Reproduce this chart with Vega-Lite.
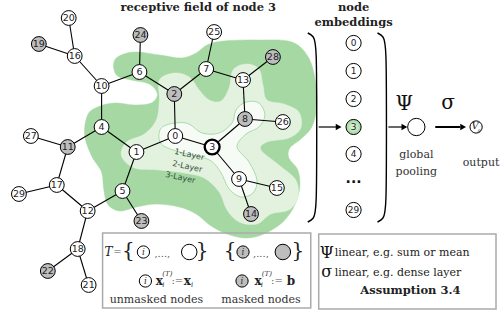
{
  "$schema": "https://vega.github.io/schema/vega-lite/v6.json",
  "width": 500,
  "height": 316,
  "padding": 0,
  "autosize": {"type": "fit", "contains": "padding"},
  "background": "white",
  "config": {"view": {"stroke": null}, "axis": {"disable": true}},
  "datasets": {
    "blob3": [
      {"i":0,"x":118,"y":57},{"i":1,"x":135,"y":52},{"i":2,"x":160,"y":55},{"i":3,"x":182,"y":58},{"i":4,"x":197,"y":53},{"i":5,"x":208,"y":45},{"i":6,"x":225,"y":41},{"i":7,"x":260,"y":40},{"i":8,"x":293,"y":42},{"i":9,"x":310,"y":58},{"i":10,"x":317,"y":83},{"i":11,"x":318,"y":107},{"i":12,"x":313,"y":127},{"i":13,"x":302,"y":139},{"i":14,"x":291,"y":148},{"i":15,"x":290,"y":158},{"i":16,"x":299,"y":170},{"i":17,"x":301,"y":187},{"i":18,"x":296,"y":205},{"i":19,"x":284,"y":222},{"i":20,"x":265,"y":234},{"i":21,"x":247,"y":238},{"i":22,"x":228,"y":234},{"i":23,"x":212,"y":226},{"i":24,"x":197,"y":214},{"i":25,"x":180,"y":207},{"i":26,"x":157,"y":204},{"i":27,"x":137,"y":207},{"i":28,"x":120,"y":211},{"i":29,"x":108,"y":204},{"i":30,"x":104,"y":188},{"i":31,"x":102,"y":172},{"i":32,"x":92,"y":156},{"i":33,"x":85,"y":135},{"i":34,"x":88,"y":115},{"i":35,"x":98,"y":107},{"i":36,"x":115,"y":103},{"i":37,"x":135,"y":105},{"i":38,"x":152,"y":103},{"i":39,"x":158,"y":94},{"i":40,"x":150,"y":84},{"i":41,"x":132,"y":80},{"i":42,"x":118,"y":76},{"i":43,"x":114,"y":66}
    ],
    "blob2": [
      {"i":0,"x":160,"y":80},{"i":1,"x":175,"y":73},{"i":2,"x":190,"y":77},{"i":3,"x":200,"y":90},{"i":4,"x":210,"y":100},{"i":5,"x":222,"y":101},{"i":6,"x":230,"y":88},{"i":7,"x":234,"y":70},{"i":8,"x":247,"y":64},{"i":9,"x":260,"y":69},{"i":10,"x":264,"y":85},{"i":11,"x":268,"y":100},{"i":12,"x":285,"y":104},{"i":13,"x":300,"y":112},{"i":14,"x":302,"y":128},{"i":15,"x":290,"y":138},{"i":16,"x":268,"y":142},{"i":17,"x":262,"y":150},{"i":18,"x":280,"y":165},{"i":19,"x":297,"y":180},{"i":20,"x":299,"y":198},{"i":21,"x":290,"y":210},{"i":22,"x":272,"y":214},{"i":23,"x":258,"y":224},{"i":24,"x":240,"y":222},{"i":25,"x":228,"y":210},{"i":26,"x":220,"y":192},{"i":27,"x":205,"y":178},{"i":28,"x":185,"y":173},{"i":29,"x":160,"y":170},{"i":30,"x":135,"y":168},{"i":31,"x":122,"y":156},{"i":32,"x":127,"y":142},{"i":33,"x":145,"y":134},{"i":34,"x":157,"y":120},{"i":35,"x":160,"y":100}
    ],
    "blob1": [
      {"i":0,"x":160,"y":132},{"i":1,"x":167,"y":125},{"i":2,"x":187,"y":123},{"i":3,"x":203,"y":133},{"i":4,"x":220,"y":133},{"i":5,"x":233,"y":123},{"i":6,"x":237,"y":110},{"i":7,"x":247,"y":102},{"i":8,"x":260,"y":103},{"i":9,"x":266,"y":115},{"i":10,"x":260,"y":127},{"i":11,"x":247,"y":134},{"i":12,"x":238,"y":147},{"i":13,"x":250,"y":162},{"i":14,"x":258,"y":180},{"i":15,"x":254,"y":193},{"i":16,"x":242,"y":197},{"i":17,"x":230,"y":189},{"i":18,"x":222,"y":173},{"i":19,"x":212,"y":161},{"i":20,"x":197,"y":156},{"i":21,"x":177,"y":151},{"i":22,"x":162,"y":144}
    ],
    "nodes": [
      {"id":0,"x":176,"y":136,"state":"unmasked"},{"id":1,"x":137,"y":152,"state":"unmasked"},{"id":2,"x":175,"y":94,"state":"masked"},{"id":3,"x":213,"y":147,"state":"unmasked"},{"id":4,"x":102,"y":127,"state":"unmasked"},{"id":5,"x":123,"y":191,"state":"unmasked"},{"id":6,"x":140,"y":72,"state":"unmasked"},{"id":7,"x":207,"y":69,"state":"unmasked"},{"id":8,"x":246,"y":119,"state":"masked"},{"id":9,"x":240,"y":179,"state":"unmasked"},{"id":10,"x":102,"y":86,"state":"unmasked"},{"id":11,"x":68,"y":147,"state":"masked"},{"id":12,"x":88,"y":211,"state":"unmasked"},{"id":13,"x":244,"y":80,"state":"unmasked"},{"id":14,"x":252,"y":214,"state":"masked"},{"id":15,"x":278,"y":188,"state":"unmasked"},{"id":16,"x":75,"y":56,"state":"unmasked"},{"id":17,"x":57,"y":185,"state":"unmasked"},{"id":18,"x":78,"y":249,"state":"unmasked"},{"id":19,"x":39,"y":44,"state":"masked"},{"id":20,"x":69,"y":18,"state":"unmasked"},{"id":21,"x":89,"y":285,"state":"unmasked"},{"id":22,"x":48,"y":271,"state":"masked"},{"id":23,"x":142,"y":221,"state":"masked"},{"id":24,"x":141,"y":35,"state":"masked"},{"id":25,"x":215,"y":32,"state":"unmasked"},{"id":26,"x":284,"y":122,"state":"unmasked"},{"id":27,"x":31,"y":136,"state":"unmasked"},{"id":28,"x":274,"y":57,"state":"masked"},{"id":29,"x":19,"y":194,"state":"unmasked"}
    ],
    "edges": [
      {"s":20,"t":16},{"s":19,"t":16},{"s":16,"t":10},{"s":10,"t":6},{"s":10,"t":4},{"s":6,"t":24},{"s":6,"t":2},{"s":2,"t":7},{"s":7,"t":25},{"s":7,"t":13},{"s":13,"t":28},{"s":13,"t":8},{"s":8,"t":26},{"s":8,"t":3},{"s":2,"t":0},{"s":0,"t":3},{"s":0,"t":1},{"s":1,"t":4},{"s":4,"t":11},{"s":11,"t":27},{"s":11,"t":17},{"s":1,"t":5},{"s":5,"t":23},{"s":5,"t":12},{"s":12,"t":17},{"s":17,"t":29},{"s":12,"t":18},{"s":18,"t":22},{"s":18,"t":21},{"s":3,"t":9},{"s":9,"t":15},{"s":9,"t":14}
    ],
    "emb": [
      {"label":"0","x":355,"y":43},{"label":"1","x":355,"y":71},{"label":"2","x":355,"y":99},{"label":"3","x":355,"y":127},{"label":"4","x":355,"y":154},{"label":"29","x":355,"y":210}
    ],
    "brackets": [
      {"side":"L","i":0,"x":309,"y":33},{"side":"L","i":1,"x":315,"y":36},{"side":"L","i":2,"x":318,"y":45},{"side":"L","i":3,"x":318,"y":127},{"side":"L","i":4,"x":318,"y":210},{"side":"L","i":5,"x":315,"y":219},{"side":"L","i":6,"x":309,"y":222},
      {"side":"R","i":0,"x":379,"y":33},{"side":"R","i":1,"x":385,"y":36},{"side":"R","i":2,"x":388,"y":45},{"side":"R","i":3,"x":388,"y":127},{"side":"R","i":4,"x":388,"y":210},{"side":"R","i":5,"x":385,"y":219},{"side":"R","i":6,"x":379,"y":222}
    ],
    "arrows": [
      {"kind":"thin","x":320,"y":127,"x2":338,"y2":127},
      {"kind":"thin","x":390,"y":127,"x2":404,"y2":127},
      {"kind":"thick","x":437,"y":127,"x2":462,"y2":127}
    ],
    "heads": [
      {"x":340,"y":127},{"x":406,"y":127},{"x":465,"y":127}
    ],
    "circles": [
      {"kind":"pool","x":418,"y":127},{"kind":"out","x":478,"y":127}
    ],
    "boxes": [
      {"x":103,"y":233,"x2":312,"y2":308},
      {"x":320,"y":234,"x2":498,"y2":309}
    ],
    "legendnodes": [
      {"state":"unmasked","size":"small","x":144,"y":252},
      {"state":"unmasked","size":"large","x":190,"y":252},
      {"state":"masked","size":"small","x":244,"y":252},
      {"state":"masked","size":"large","x":284,"y":252},
      {"state":"unmasked","size":"small","x":146,"y":281},
      {"state":"masked","size":"small","x":243,"y":281}
    ],
    "texts": [
      {"kind":"bold","text":"receptive field of node 3","x":199,"y":8},
      {"kind":"bold","text":"node","x":355,"y":8},
      {"kind":"bold","text":"embeddings","x":355,"y":23},
      {"kind":"bold","text":"Assumption 3.4","x":412,"y":291},
      {"kind":"serif","text":"global","x":418,"y":155},
      {"kind":"serif","text":"pooling","x":418,"y":172},
      {"kind":"serif","text":"output","x":483,"y":163},
      {"kind":"serif","text":"unmasked nodes","x":157,"y":300},
      {"kind":"serif","text":"masked nodes","x":262,"y":300},
      {"kind":"serifleft","text":"linear, e.g. sum or mean","x":336,"y":253},
      {"kind":"serifleft","text":"linear, e.g. dense layer","x":336,"y":273},
      {"kind":"big","text":"Ψ","x":406,"y":104},
      {"kind":"big","text":"σ","x":450,"y":103},
      {"kind":"boxgreek","text":"Ψ","x":328,"y":253},
      {"kind":"boxgreek","text":"σ","x":328,"y":272},
      {"kind":"brace","text":"{","x":129,"y":251},
      {"kind":"brace","text":"}","x":203,"y":251},
      {"kind":"brace","text":"{","x":231,"y":251},
      {"kind":"brace","text":"}","x":299,"y":251},
      {"kind":"ital","text":"T","x":109,"y":252},
      {"kind":"math","text":"=","x":118,"y":252},
      {"kind":"math","text":",...,","x":163,"y":254},
      {"kind":"math","text":",...,","x":262,"y":254},
      {"kind":"math","text":":=","x":178,"y":281},
      {"kind":"math","text":":=","x":278,"y":281},
      {"kind":"ital9","text":"i","x":144,"y":252},
      {"kind":"ital9","text":"i","x":244,"y":252},
      {"kind":"ital9","text":"i","x":146,"y":281},
      {"kind":"ital9","text":"i","x":243,"y":281},
      {"kind":"boldx","text":"x","x":160,"y":281},
      {"kind":"boldx","text":"x","x":188,"y":281},
      {"kind":"boldx","text":"x","x":259,"y":281},
      {"kind":"boldx","text":"b","x":292,"y":281},
      {"kind":"tiny","text":"(T)","x":168,"y":274},
      {"kind":"tiny","text":"i","x":164,"y":285},
      {"kind":"tiny","text":"i","x":193,"y":285},
      {"kind":"tiny","text":"(T)","x":268,"y":274},
      {"kind":"tiny","text":"i","x":263,"y":285},
      {"kind":"layer","text":"1-Layer","x":190,"y":155},
      {"kind":"layer","text":"2-Layer","x":188,"y":167},
      {"kind":"layer","text":"3-Layer","x":181,"y":178},
      {"kind":"dots","text":"...","x":355,"y":179},
      {"kind":"outv","text":"V","x":477,"y":126},
      {"kind":"outg","text":"g","x":481,"y":130}
    ]
  },
  "encoding": {
    "x": {"field": "x", "type": "quantitative", "scale": {"domain": [0, 500], "nice": false, "zero": false}, "axis": null},
    "y": {"field": "y", "type": "quantitative", "scale": {"domain": [0, 316], "nice": false, "zero": false, "reverse": true}, "axis": null}
  },
  "layer": [
    {"data": {"name": "blob3"}, "mark": {"type": "line", "interpolate": "cardinal-closed", "fill": "#a5d8a2", "stroke": "#a5d8a2", "strokeWidth": 0.5}, "encoding": {"order": {"field": "i", "type": "quantitative"}}},
    {"data": {"name": "blob2"}, "mark": {"type": "line", "interpolate": "cardinal-closed", "fill": "#e2f2df", "stroke": "#e2f2df", "strokeWidth": 0.5}, "encoding": {"order": {"field": "i", "type": "quantitative"}}},
    {"data": {"name": "blob1"}, "mark": {"type": "line", "interpolate": "cardinal-closed", "fill": "#f6fbf5", "stroke": "#9bd398", "strokeWidth": 0.8}, "encoding": {"order": {"field": "i", "type": "quantitative"}}},
    {"data": {"name": "edges"},
     "transform": [
       {"lookup": "s", "from": {"data": {"name": "nodes"}, "key": "id", "fields": ["x", "y"]}},
       {"lookup": "t", "from": {"data": {"name": "nodes"}, "key": "id", "fields": ["x", "y"]}, "as": ["x2", "y2"]}
     ],
     "mark": {"type": "rule", "stroke": "black", "strokeWidth": 1.1},
     "encoding": {"x2": {"field": "x2"}, "y2": {"field": "y2"}}},
    {"data": {"name": "nodes"}, "mark": {"type": "point", "shape": "circle", "size": 220, "stroke": "black", "strokeWidth": 1, "opacity": 1, "filled": true},
     "encoding": {"fill": {"field": "state", "type": "nominal", "scale": {"domain": ["unmasked", "masked"], "range": ["white", "#bdbdbd"]}, "legend": null}}},
    {"data": {"name": "nodes"}, "transform": [{"filter": "datum.id == 3"}], "mark": {"type": "point", "shape": "circle", "size": 220, "stroke": "black", "strokeWidth": 2.4, "fill": "white", "opacity": 1, "filled": true}},
    {"data": {"name": "nodes"}, "mark": {"type": "text", "font": "DejaVu Sans", "fontSize": 9.5, "fill": "#222", "align": "center", "baseline": "middle"}, "encoding": {"text": {"field": "id", "type": "nominal"}}},
    {"data": {"name": "brackets"}, "mark": {"type": "line", "interpolate": "basis", "stroke": "black", "strokeWidth": 1.4}, "encoding": {"detail": {"field": "side"}, "order": {"field": "i", "type": "quantitative"}}},
    {"data": {"name": "emb"}, "transform": [{"filter": "datum.label != '3'"}], "mark": {"type": "point", "shape": "circle", "size": 230, "stroke": "black", "strokeWidth": 1, "fill": "white", "opacity": 1, "filled": true}},
    {"data": {"name": "emb"}, "transform": [{"filter": "datum.label == '3'"}], "mark": {"type": "point", "shape": "circle", "size": 230, "stroke": "black", "strokeWidth": 1, "opacity": 1, "filled": true,
      "fill": {"gradient": "radial", "x1": 0.5, "y1": 0.5, "r1": 0, "x2": 0.5, "y2": 0.5, "r2": 0.5, "stops": [{"offset": 0, "color": "#eef8ec"}, {"offset": 1, "color": "#9ed49a"}]}}},
    {"data": {"name": "emb"}, "mark": {"type": "text", "font": "DejaVu Sans", "fontSize": 9, "fill": "#222", "align": "center", "baseline": "middle"}, "encoding": {"text": {"field": "label", "type": "nominal"}}},
    {"data": {"name": "arrows"}, "transform": [{"filter": "datum.kind == 'thin'"}], "mark": {"type": "rule", "stroke": "black", "strokeWidth": 1.2}, "encoding": {"x2": {"field": "x2"}, "y2": {"field": "y2"}}},
    {"data": {"name": "arrows"}, "transform": [{"filter": "datum.kind == 'thick'"}], "mark": {"type": "rule", "stroke": "black", "strokeWidth": 2}, "encoding": {"x2": {"field": "x2"}, "y2": {"field": "y2"}}},
    {"data": {"name": "heads"}, "mark": {"type": "point", "shape": "triangle-right", "size": 45, "fill": "black", "stroke": null, "opacity": 1, "filled": true}},
    {"data": {"name": "circles"}, "transform": [{"filter": "datum.kind == 'pool'"}], "mark": {"type": "point", "shape": "circle", "size": 300, "stroke": "black", "strokeWidth": 1, "fill": "white", "opacity": 1, "filled": true}},
    {"data": {"name": "circles"}, "transform": [{"filter": "datum.kind == 'out'"}], "mark": {"type": "point", "shape": "circle", "size": 150, "stroke": "black", "strokeWidth": 1, "fill": "white", "opacity": 1, "filled": true}},
    {"data": {"name": "boxes"}, "mark": {"type": "rect", "fill": null, "stroke": "#aaaaaa", "strokeWidth": 1.5}, "encoding": {"x2": {"field": "x2"}, "y2": {"field": "y2"}}},
    {"data": {"name": "legendnodes"}, "transform": [{"filter": "datum.size == 'small'"}], "mark": {"type": "point", "shape": "circle", "size": 150, "stroke": "black", "strokeWidth": 1, "opacity": 1, "filled": true},
     "encoding": {"fill": {"field": "state", "type": "nominal", "scale": {"domain": ["unmasked", "masked"], "range": ["white", "#bdbdbd"]}, "legend": null}}},
    {"data": {"name": "legendnodes"}, "transform": [{"filter": "datum.size == 'large'"}], "mark": {"type": "point", "shape": "circle", "size": 240, "stroke": "black", "strokeWidth": 1, "opacity": 1, "filled": true},
     "encoding": {"fill": {"field": "state", "type": "nominal", "scale": {"domain": ["unmasked", "masked"], "range": ["white", "#bdbdbd"]}, "legend": null}}},
    {"data": {"name": "texts"}, "transform": [{"filter": "datum.kind == 'bold'"}], "mark": {"type": "text", "font": "DejaVu Serif", "fontWeight": "bold", "fontSize": 11.5, "fill": "#222", "align": "center", "baseline": "middle"}, "encoding": {"text": {"field": "text"}}},
    {"data": {"name": "texts"}, "transform": [{"filter": "datum.kind == 'serif'"}], "mark": {"type": "text", "font": "DejaVu Serif", "fontSize": 11, "fill": "#333", "align": "center", "baseline": "middle"}, "encoding": {"text": {"field": "text"}}},
    {"data": {"name": "texts"}, "transform": [{"filter": "datum.kind == 'serifleft'"}], "mark": {"type": "text", "font": "DejaVu Serif", "fontSize": 11, "fill": "#222", "align": "left", "baseline": "middle"}, "encoding": {"text": {"field": "text"}}},
    {"data": {"name": "texts"}, "transform": [{"filter": "datum.kind == 'big'"}], "mark": {"type": "text", "font": "DejaVu Serif", "fontSize": 20, "fill": "#111", "align": "center", "baseline": "middle"}, "encoding": {"text": {"field": "text"}}},
    {"data": {"name": "texts"}, "transform": [{"filter": "datum.kind == 'boxgreek'"}], "mark": {"type": "text", "font": "DejaVu Serif", "fontSize": 16, "fill": "#111", "align": "center", "baseline": "middle"}, "encoding": {"text": {"field": "text"}}},
    {"data": {"name": "texts"}, "transform": [{"filter": "datum.kind == 'brace'"}], "mark": {"type": "text", "font": "DejaVu Serif", "fontSize": 20, "fill": "#222", "align": "center", "baseline": "middle"}, "encoding": {"text": {"field": "text"}}},
    {"data": {"name": "texts"}, "transform": [{"filter": "datum.kind == 'ital'"}], "mark": {"type": "text", "font": "DejaVu Serif", "fontStyle": "italic", "fontSize": 12, "fill": "#222", "align": "center", "baseline": "middle"}, "encoding": {"text": {"field": "text"}}},
    {"data": {"name": "texts"}, "transform": [{"filter": "datum.kind == 'math'"}], "mark": {"type": "text", "font": "DejaVu Serif", "fontSize": 10, "fill": "#555", "align": "center", "baseline": "middle"}, "encoding": {"text": {"field": "text"}}},
    {"data": {"name": "texts"}, "transform": [{"filter": "datum.kind == 'ital9'"}], "mark": {"type": "text", "font": "DejaVu Serif", "fontStyle": "italic", "fontSize": 9, "fill": "#333", "align": "center", "baseline": "middle"}, "encoding": {"text": {"field": "text"}}},
    {"data": {"name": "texts"}, "transform": [{"filter": "datum.kind == 'boldx'"}], "mark": {"type": "text", "font": "DejaVu Serif", "fontWeight": "bold", "fontSize": 12, "fill": "#222", "align": "center", "baseline": "middle"}, "encoding": {"text": {"field": "text"}}},
    {"data": {"name": "texts"}, "transform": [{"filter": "datum.kind == 'tiny'"}], "mark": {"type": "text", "font": "DejaVu Serif", "fontStyle": "italic", "fontSize": 7, "fill": "#333", "align": "center", "baseline": "middle"}, "encoding": {"text": {"field": "text"}}},
    {"data": {"name": "texts"}, "transform": [{"filter": "datum.kind == 'layer'"}], "mark": {"type": "text", "font": "DejaVu Sans", "fontSize": 8, "angle": 12, "fill": "#34503a", "align": "center", "baseline": "middle"}, "encoding": {"text": {"field": "text"}}},
    {"data": {"name": "texts"}, "transform": [{"filter": "datum.kind == 'dots'"}], "mark": {"type": "text", "font": "DejaVu Sans", "fontSize": 14, "fontWeight": "bold", "fill": "#111", "align": "center", "baseline": "middle"}, "encoding": {"text": {"field": "text"}}},
    {"data": {"name": "texts"}, "transform": [{"filter": "datum.kind == 'outv'"}], "mark": {"type": "text", "font": "DejaVu Serif", "fontStyle": "italic", "fontSize": 10, "fill": "#222", "align": "center", "baseline": "middle"}, "encoding": {"text": {"field": "text"}}},
    {"data": {"name": "texts"}, "transform": [{"filter": "datum.kind == 'outg'"}], "mark": {"type": "text", "font": "DejaVu Serif", "fontStyle": "italic", "fontSize": 5, "fill": "#222", "align": "center", "baseline": "middle"}, "encoding": {"text": {"field": "text"}}}
  ]
}
